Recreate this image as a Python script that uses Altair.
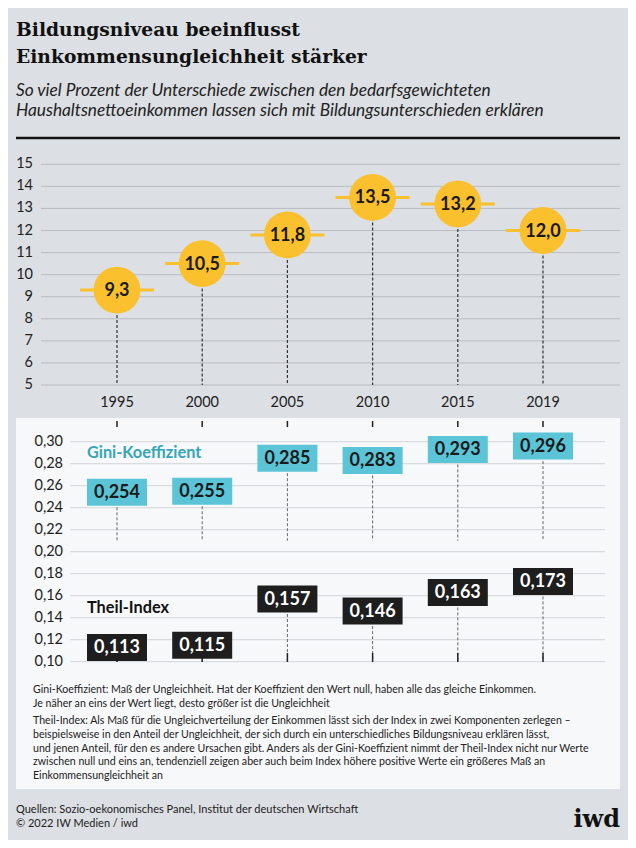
import altair as alt
import pandas as pd

# ---------------- data ----------------
years = ["1995", "2000", "2005", "2010", "2015", "2019"]
edu_share = [9.3, 10.5, 11.8, 13.5, 13.2, 12.0]
gini = [0.254, 0.255, 0.285, 0.283, 0.293, 0.296]
theil = [0.113, 0.115, 0.157, 0.146, 0.163, 0.173]
top_ticks = [5, 6, 7, 8, 9, 10, 11, 12, 13, 14, 15]
bottom_ticks = [0.10, 0.12, 0.14, 0.16, 0.18, 0.20, 0.22, 0.24, 0.26, 0.28, 0.30]

title_lines = ["Bildungsniveau beeinflusst", "Einkommensungleichheit stärker"]
subtitle_lines = [
    "So viel Prozent der Unterschiede zwischen den bedarfsgewichteten",
    "Haushaltsnettoeinkommen lassen sich mit Bildungsunterschieden erklären",
]
note_gini = [
    "Gini-Koeffizient: Maß der Ungleichheit. Hat der Koeffizient den Wert null, haben alle das gleiche Einkommen.",
    "Je näher an eins der Wert liegt, desto größer ist die Ungleichheit",
]
note_theil = [
    "Theil-Index: Als Maß für die Ungleichverteilung der Einkommen lässt sich der Index in zwei Komponenten zerlegen –",
    "beispielsweise in den Anteil der Ungleichheit, der sich durch ein unterschiedliches Bildungsniveau erklären lässt,",
    "und jenen Anteil, für den es andere Ursachen gibt. Anders als der Gini-Koeffizient nimmt der Theil-Index nicht nur Werte",
    "zwischen null und eins an, tendenziell zeigen aber auch beim Index höhere positive Werte ein größeres Maß an",
    "Einkommensungleichheit an",
]
source_lines = [
    "Quellen: Sozio-oekonomisches Panel, Institut der deutschen Wirtschaft",
    "© 2022 IW Medien / iwd",
]
series_gini = "Gini-Koeffizient"
series_theil = "Theil-Index"
logo = "iwd"


def de(v, d):
    return f"{v:.{d}f}".replace(".", ",")


df = pd.DataFrame({
    "year": years,
    "share": edu_share,
    "share_label": [de(v, 1) for v in edu_share],
    "gini": gini,
    "gini_label": [de(v, 3) for v in gini],
    "theil": theil,
    "theil_label": [de(v, 3) for v in theil],
})
df_top = pd.DataFrame({"t": top_ticks, "lab": [str(v) for v in top_ticks]})
df_bot = pd.DataFrame({"t": bottom_ticks, "lab": [de(v, 2) for v in bottom_ticks]})

# ---------------- styles ----------------
BG = "#dcdfe3"
PANEL = "#f7f8fa"
YELLOW = "#fbc02d"
CYAN = "#5bc4d6"
TEAL_TXT = "#35a6b6"
DARK = "#1e1e1e"
FONT = "Lato"
SERIF = "DejaVu Serif"

X = alt.X("year:N", scale=alt.Scale(type="point", domain=years, range=[109, 535], padding=0), axis=None)
ytop_scale = alt.Scale(domain=[5, 15], range=[377, 156.3], nice=False, zero=False)
ybot_scale = alt.Scale(domain=[0.10, 0.30], range=[653.7, 433.7], nice=False, zero=False)

one = alt.Data(values=[{"a": 1}])


def text_block(lines, x, y, **kw):
    return alt.Chart(one).mark_text(text=lines, align="left", baseline="middle", **kw).encode(
        x=alt.value(x), y=alt.value(y))


# ---------------- background pieces ----------------
panel = alt.Chart(one).mark_rect(color=PANEL).encode(
    x=alt.value(8), x2=alt.value(612), y=alt.value(410), y2=alt.value(781))
top_line = alt.Chart(one).mark_rule(color="#111", strokeWidth=2.5).encode(
    x=alt.value(8), x2=alt.value(612), y=alt.value(130))

# ---------------- top chart ----------------
base_top = alt.Chart(df)
grid_top = alt.Chart(df_top).mark_rule(color="#b9bdc3", strokeWidth=1).encode(
    y=alt.Y("t:Q", scale=ytop_scale, axis=None), x=alt.value(33), x2=alt.value(612))
lab_top = alt.Chart(df_top).mark_text(align="right", baseline="middle", fontSize=14.5, font=FONT, color="#222").encode(
    y=alt.Y("t:Q", scale=ytop_scale, axis=None), x=alt.value(25), text="lab:N")
Ytop = alt.Y("share:Q", scale=ytop_scale, axis=None)
dash_top = base_top.mark_rule(color="#333", strokeWidth=1.2, strokeDash=[3, 2]).encode(
    x=X, y=Ytop, y2=alt.datum(5))
hline_top = base_top.mark_tick(orient="horizontal", size=74, thickness=3, color=YELLOW, opacity=1).encode(x=X, y=Ytop)
circ_top = base_top.mark_circle(size=2200, color=YELLOW, opacity=1).encode(x=X, y=Ytop)
val_top = base_top.mark_text(fontSize=18, fontWeight="bold", font=FONT, color="#1a1a1a", baseline="middle", dy=1).encode(
    x=X, y=Ytop, text="share_label:N")
year_top = base_top.mark_text(fontSize=14.5, font=FONT, color="#222", baseline="middle").encode(
    x=X, y=alt.value(395), text="year:N")

top = alt.layer(grid_top, lab_top, dash_top, hline_top, circ_top, val_top, year_top)

# ---------------- bottom chart ----------------
base_bot = alt.Chart(df)
grid_bot = alt.Chart(df_bot).mark_rule(color="#d3d6da", strokeWidth=1).encode(
    y=alt.Y("t:Q", scale=ybot_scale, axis=None), x=alt.value(62), x2=alt.value(597))
lab_bot = alt.Chart(df_bot).mark_text(align="right", baseline="middle", fontSize=14.5, font=FONT, color="#222").encode(
    y=alt.Y("t:Q", scale=ybot_scale, axis=None), x=alt.value(55), text="lab:N")
Yg = alt.Y("gini:Q", scale=ybot_scale, axis=None)
Yt = alt.Y("theil:Q", scale=ybot_scale, axis=None)
box_shape = "M-1,-0.45L1,-0.45L1,0.45L-1,0.45Z"
dash_g = base_bot.mark_rule(color="#666", strokeWidth=1, strokeDash=[3, 2]).encode(x=X, y=Yg, y2=alt.datum(0.21))
dash_t = base_bot.mark_rule(color="#666", strokeWidth=1, strokeDash=[3, 2]).encode(x=X, y=Yt, y2=alt.datum(0.10))
tick_top = base_bot.mark_rule(color="#222", strokeWidth=1.5).encode(
    x=X, y=alt.value(413), y2=alt.value(419))
tick_bot = base_bot.mark_rule(color="#222", strokeWidth=1.5).encode(
    x=X, y=alt.value(645), y2=alt.value(654))
box_g = base_bot.mark_point(shape=box_shape, filled=True, size=3600, color=CYAN, opacity=1).encode(x=X, y=Yg)
box_t = base_bot.mark_point(shape=box_shape, filled=True, size=3600, color=DARK, opacity=1).encode(x=X, y=Yt)
txt_g = base_bot.mark_text(fontSize=18, fontWeight="bold", font=FONT, color="#1a1a1a", baseline="middle", dy=1).encode(
    x=X, y=Yg, text="gini_label:N")
txt_t = base_bot.mark_text(fontSize=18, fontWeight="bold", font=FONT, color="#ffffff", baseline="middle", dy=1).encode(
    x=X, y=Yt, text="theil_label:N")

bottom = alt.layer(grid_bot, lab_bot, dash_g, dash_t, tick_top, tick_bot, box_g, box_t, txt_g, txt_t)

# ---------------- texts ----------------
texts = [
    text_block(title_lines, 8, 22, fontSize=18.7, fontWeight="bold", font=SERIF, color="#111", lineHeight=27),
    text_block(subtitle_lines, 8, 83, fontSize=17.3, fontStyle="italic", font=FONT, color="#222", lineHeight=20),
    text_block(series_gini, 79, 445, fontSize=16.3, fontWeight="bold", font=FONT, color=TEAL_TXT),
    text_block(series_theil, 79, 600, fontSize=16.3, fontWeight="bold", font=FONT, color="#111"),
    text_block(note_gini, 25, 682, fontSize=10.6, font=FONT, color="#222", lineHeight=13.5),
    text_block(note_theil, 25, 713, fontSize=10.6, font=FONT, color="#222", lineHeight=13.8),
    text_block(source_lines, 8, 802, fontSize=11, font=FONT, color="#222", lineHeight=14),
    alt.Chart(one).mark_text(text=logo, align="right", baseline="middle", fontSize=24, fontWeight="bold",
                             font=SERIF, color="#111").encode(x=alt.value(612), y=alt.value(812)),
]

chart = alt.layer(panel, top_line, top, bottom, *texts).resolve_scale(y="independent").properties(
    width=620, height=832, background=BG, padding=0,
    autosize=alt.AutoSizeParams(type="none"),
).configure_view(strokeWidth=0)

chart.save("out.html", embed_options={"renderer": "svg", "actions": False})
